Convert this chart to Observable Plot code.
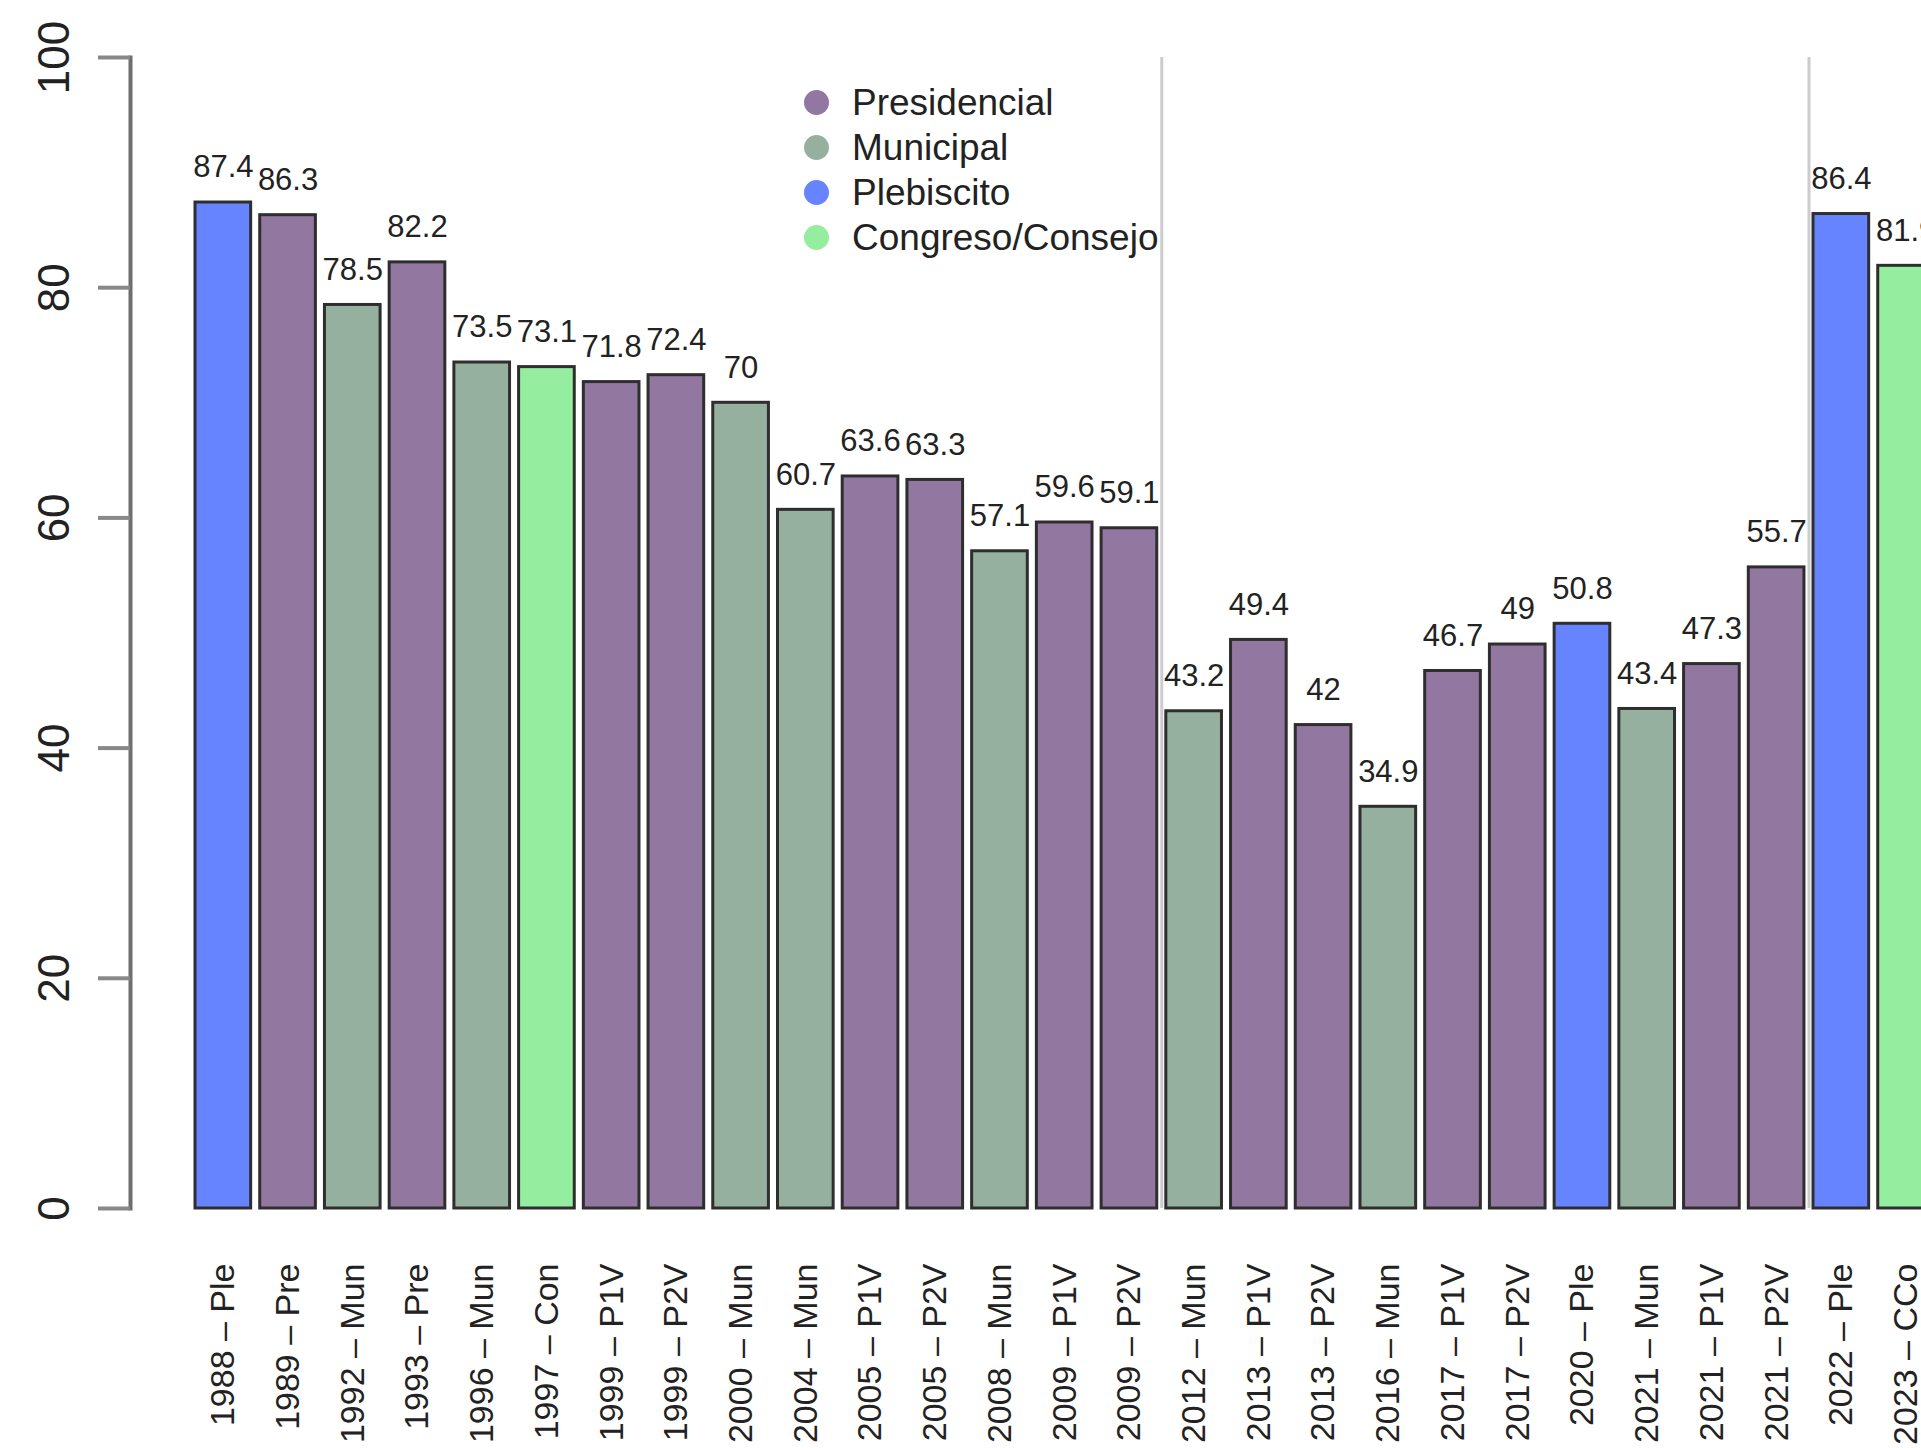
<!DOCTYPE html>
<html>
<head>
<meta charset="utf-8">
<script src="https://cdn.jsdelivr.net/npm/d3@7"></script>
<script src="https://cdn.jsdelivr.net/npm/@observablehq/plot@0.6"></script>
<style>
html, body { margin: 0; padding: 0; background: #fff; overflow: hidden; width: 1921px; height: 1448px; }
#chart { position: relative; width: 1921px; height: 1448px; overflow: hidden; }
#legend { position: absolute; left: 804px; top: 80px; font-family: "Liberation Sans", Arial, sans-serif; font-size: 37px; color: #222; }
.item { display: flex; align-items: center; height: 45px; }
.sw { width: 25px; height: 25px; border-radius: 50%; margin-right: 23px; flex: none; }
</style>
</head>
<body>
<div id="chart"></div>
<script>
const labels = [
  "1988 – Ple", "1989 – Pre", "1992 – Mun", "1993 – Pre", "1996 – Mun", "1997 – Con",
  "1999 – P1V", "1999 – P2V", "2000 – Mun", "2004 – Mun", "2005 – P1V", "2005 – P2V",
  "2008 – Mun", "2009 – P1V", "2009 – P2V", "2012 – Mun", "2013 – P1V", "2013 – P2V",
  "2016 – Mun", "2017 – P1V", "2017 – P2V", "2020 – Ple", "2021 – Mun", "2021 – P1V",
  "2021 – P2V", "2022 – Ple", "2023 – CCo"
];
const values = [
  87.4, 86.3, 78.5, 82.2, 73.5, 73.1,
  71.8, 72.4, 70, 60.7, 63.6, 63.3,
  57.1, 59.6, 59.1, 43.2, 49.4, 42,
  34.9, 46.7, 49, 50.8, 43.4, 47.3,
  55.7, 86.4, 81.9
];
const types = [
  "Plebiscito", "Presidencial", "Municipal", "Presidencial", "Municipal", "Congreso/Consejo",
  "Presidencial", "Presidencial", "Municipal", "Municipal", "Presidencial", "Presidencial",
  "Municipal", "Presidencial", "Presidencial", "Municipal", "Presidencial", "Presidencial",
  "Municipal", "Presidencial", "Presidencial", "Plebiscito", "Municipal", "Presidencial",
  "Presidencial", "Plebiscito", "Congreso/Consejo"
];
const typeNames = ["Presidencial", "Municipal", "Plebiscito", "Congreso/Consejo"];
const typeColors = ["#9277A0", "#96B0A0", "#6684FF", "#95EEA0"];
const yTicks = [0, 20, 40, 60, 80, 100];
const separatorsBefore = ["2012 – Mun", "2022 – Ple"];

const data = labels.map((label, i) => ({label, value: values[i], type: types[i]}));

const xRange = [195, 1933.4];
const padInner = 0.14;
const step = (xRange[1] - xRange[0]) / (labels.length - padInner);

const chart = Plot.plot({
  width: 1921,
  height: 1448,
  marginTop: 57,
  marginBottom: 240,
  marginLeft: 130,
  marginRight: 0,
  style: {fontFamily: "'Liberation Sans', Arial, sans-serif", background: "white", overflow: "hidden", color: "#222"},
  x: {type: "band", domain: labels, range: xRange, paddingInner: padInner, paddingOuter: 0, align: 0, round: false},
  y: {domain: [0, 100]},
  color: {domain: typeNames, range: typeColors},
  marks: [
    Plot.ruleX(separatorsBefore, {x: d => d, y1: 0, y2: 100, dx: -step / 2, stroke: "#cccccc", strokeWidth: 3}),
    Plot.barY(data, {x: "label", y: "value", fill: "type", stroke: "#2e2e2e", strokeWidth: 3}),
    Plot.text(data, {x: "label", y: "value", text: d => String(d.value), dy: -35, fontSize: 31, fill: "#222"}),
    Plot.frame({anchor: "left", stroke: "#6e6e6e", strokeWidth: 4}),
    Plot.axisY({ticks: yTicks, tickSize: 32, tickRotate: -90, tickPadding: 30, fontSize: 44, stroke: "#888", strokeWidth: 4, label: null, fill: "#222"}),
    Plot.axisX({tickSize: 0, tickRotate: -90, tickPadding: 55, fontSize: 34, label: null, fill: "#222"})
  ]
});

const container = document.getElementById("chart");
container.appendChild(chart);

const legend = document.createElement("div");
legend.id = "legend";
typeNames.forEach((name, i) => {
  const item = document.createElement("div");
  item.className = "item";
  const sw = document.createElement("span");
  sw.className = "sw";
  sw.style.background = typeColors[i];
  const tx = document.createElement("span");
  tx.textContent = name;
  item.appendChild(sw);
  item.appendChild(tx);
  legend.appendChild(item);
});
container.appendChild(legend);
</script>
</body>
</html>
